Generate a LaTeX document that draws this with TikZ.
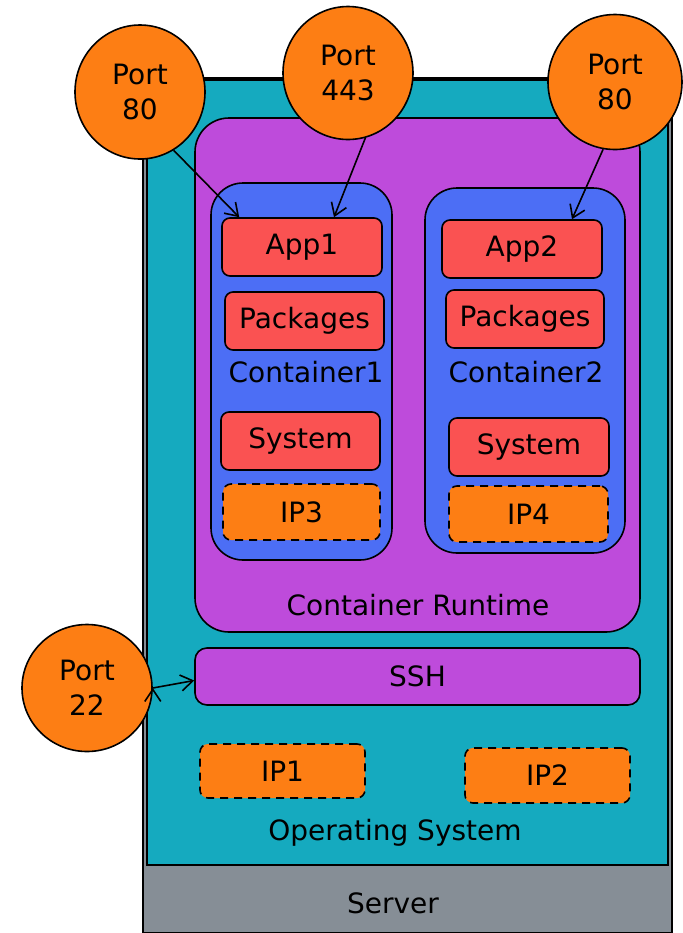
\documentclass[tikz,border=0pt]{standalone}
\usepackage{fontspec}
\setmainfont{DejaVu Sans}
\usepackage{tikz}
\definecolor{gray6}{HTML}{868E96}
\definecolor{cyan6}{HTML}{15AABF}
\definecolor{grape6}{HTML}{BE4BDB}
\definecolor{indigo6}{HTML}{4C6EF5}
\definecolor{red6}{HTML}{FA5252}
\definecolor{orange6}{HTML}{FD7E14}
\usetikzlibrary{arrows.meta,shapes.geometric}
\tikzstyle{layer}=[rectangle, draw=black, inner sep=0pt]
\tikzstyle{appbox}=[layer, fill=red6, rounded corners=4pt, minimum width=80pt, minimum height=29pt]
\tikzstyle{ipbox}=[layer, fill=orange6, dashed, dash pattern=on 4pt off 3pt, rounded corners=4pt, minimum height=28pt]
\tikzstyle{port}=[ellipse, draw=black, fill=orange6, align=center, inner sep=0pt]
\tikzstyle{caption}=[inner sep=0pt]

\begin{document}
\begin{tikzpicture}[thick, x=0.5pt, y=-0.5pt, font=\fontsize{14}{17.5}\selectfont,
		>={Straight Barb[length=6pt,width=8pt]}]
			\useasboundingbox (0,0) rectangle (682,933);
			% server and operating system
			\node[layer, fill=gray6, minimum width=264.5pt, minimum height=427.5pt] (server) at (407.5,505.5) {};
			\node[layer, fill=cyan6, minimum width=260.5pt, minimum height=392.5pt] (os) at (407.5,472.5) {};
			\node[caption] (srvlbl) at (393,903) {Server};
			\node[caption] (oslbl) at (395,833) {Operating System};
			% runtime and containers
			\node[layer, fill=grape6, rounded corners=17pt, minimum width=222.5pt, minimum height=257pt] (runtime) at (417.5,375) {};
			\node[caption] (rtlbl) at (418,605) {Container Runtime};
			\node[layer, fill=indigo6, rounded corners=16pt, minimum width=90.5pt, minimum height=188.5pt] (cont1) at (301.5,371.5) {};
			\node[layer, fill=indigo6, rounded corners=16pt, minimum width=100pt, minimum height=182.5pt] (cont2) at (525,370.5) {};
			\node[caption] (c1lbl) at (306,372) {Container1};
			\node[caption] (c2lbl) at (526,372) {Container2};
			\node[appbox] (app1) at (302,247) {App1};
			\node[appbox, minimum width=79.5pt] (pkg1) at (304.5,321) {Packages};
			\node[appbox, minimum width=79.5pt] (sys1) at (300.5,441) {System};
			\node[ipbox, minimum width=78.5pt] (ip3) at (301.5,512) {IP3};
			\node[appbox] (app2) at (522,249) {App2};
			\node[appbox, minimum width=79pt] (pkg2) at (525,319) {Packages};
			\node[appbox] (sys2) at (529,447) {System};
			\node[ipbox, minimum width=79.5pt] (ip4) at (528.5,514) {IP4};
			% host level
			\node[layer, fill=grape6, rounded corners=6pt, minimum width=222.5pt, minimum height=28.5pt] (ssh) at (417.5,676.5) {SSH};
			\node[ipbox, minimum width=82.5pt, minimum height=27pt] (ip1) at (282.5,771) {IP1};
			\node[ipbox, minimum width=82.5pt, minimum height=27.5pt] (ip2) at (547.5,775.5) {IP2};
			% ports
			\node[port, minimum width=65pt, minimum height=67pt] (port80a) at (140,92) {Port\\80};
			\node[port, minimum width=65pt, minimum height=66.5pt] (port443) at (348,73) {Port\\443};
			\node[port, minimum width=67pt, minimum height=67.5pt] (port80b) at (615,82) {Port\\80};
			\node[port, minimum width=65pt, minimum height=63.5pt] (port22) at (87,688) {Port\\22};
			\path[draw=black, ->] (port80a.-60) edge ([xshift=9pt]app1.north west)
				(port443.-75) edge ([xshift=16pt]app1.north)
				(port80b.-100) edge ([xshift=25pt]app2.north)
				(port22.east) edge ([yshift=-2pt]ssh.west);
		\end{tikzpicture}
\end{document}
